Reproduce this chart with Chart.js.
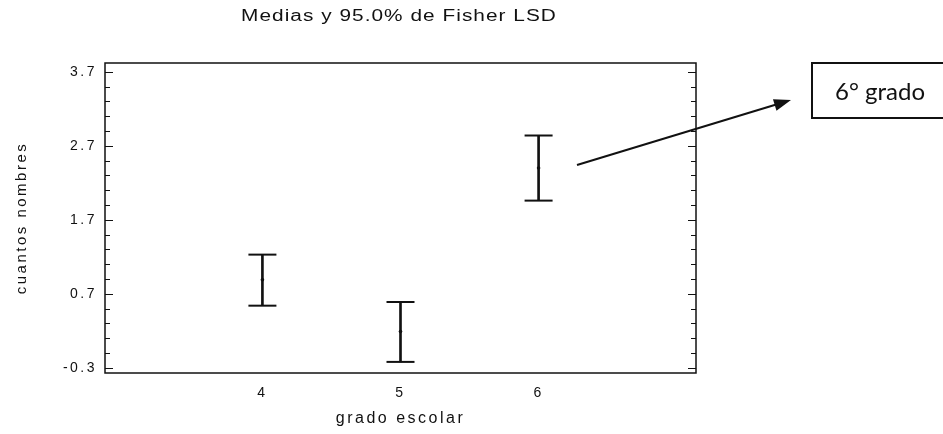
<!DOCTYPE html>
<html>
<head>
<meta charset="utf-8">
<script src="https://cdn.jsdelivr.net/npm/chart.js@4.4.1/dist/chart.umd.min.js"></script>
<style>
  html, body { margin: 0; padding: 0; background: #fff; }
  #wrap { position: relative; width: 943px; height: 434px; }
</style>
</head>
<body>
<div id="wrap"><canvas id="lsdChart"></canvas></div>
<script>
// ===== DATOS =====
const titulo = 'Medias y 95.0% de Fisher LSD';
const grados = [4, 5, 6];
const medias = [0.89, 0.19, 2.40];
const limInf = [0.54, -0.22, 1.96];
const limSup = [1.23, 0.59, 2.84];
const yMajor = [-0.3, 0.7, 1.7, 2.7, 3.7];
const nota = '6° grado';

const INK = '#111';
const FONT = "'Liberation Sans', Arial, sans-serif";

// ticks menores cada 0.2 (marcas del eje)
const yTicks = [];
for (let i = 0; i <= 20; i++) yTicks.push(Math.round((-0.3 + i * 0.2) * 10) / 10);
const esMayor = v => yMajor.some(m => Math.abs(m - v) < 1e-6);

// texto algo más ancho, como en el original
const espaciado = {
  id: 'espaciado',
  beforeUpdate(chart) { chart.ctx.letterSpacing = '2.5px'; },
  beforeDraw(chart) { chart.ctx.letterSpacing = '2.5px'; }
};

// marco + marcas hacia adentro
const marco = {
  id: 'marco',
  afterDatasetsDraw(chart) {
    const { ctx, chartArea: a, scales: { y } } = chart;
    ctx.save();
    ctx.strokeStyle = INK;
    ctx.lineWidth = 1.5;
    ctx.strokeRect(a.left, a.top, a.right - a.left, a.bottom - a.top);
    ctx.lineWidth = 1.2;
    yTicks.forEach(v => {
      const py = Math.round(y.getPixelForValue(v)) + 0.5;
      const len = esMayor(v) ? 8 : 5;
      ctx.beginPath();
      ctx.moveTo(a.left, py); ctx.lineTo(a.left + len, py);
      ctx.moveTo(a.right, py); ctx.lineTo(a.right - len, py);
      ctx.stroke();
    });
    ctx.restore();
  }
};

// titulo, flecha y recuadro
const anotaciones = {
  id: 'anotaciones',
  afterDraw(chart) {
    const { ctx } = chart;
    ctx.save();
    ctx.letterSpacing = '0.8px';
    ctx.fillStyle = INK;
    ctx.font = '16px ' + FONT;
    ctx.textAlign = 'center';
    ctx.textBaseline = 'middle';
    ctx.translate(399, 17);
    ctx.scale(1.3, 1);
    ctx.fillText(titulo, 0, 0);
    ctx.restore();

    // flecha
    const x0 = 577, y0 = 165, x1 = 791, y1 = 100;
    const ang = Math.atan2(y1 - y0, x1 - x0);
    const c = Math.cos(ang), s = Math.sin(ang);
    ctx.save();
    ctx.strokeStyle = INK;
    ctx.fillStyle = INK;
    ctx.lineWidth = 2;
    ctx.beginPath();
    ctx.moveTo(x0, y0);
    ctx.lineTo(x1 - 12 * c, y1 - 12 * s);
    ctx.stroke();
    ctx.beginPath();
    ctx.moveTo(x1, y1);
    ctx.lineTo(x1 - 17 * c + 6 * s, y1 - 17 * s - 6 * c);
    ctx.lineTo(x1 - 17 * c - 6 * s, y1 - 17 * s + 6 * c);
    ctx.closePath();
    ctx.fill();

    // recuadro
    ctx.lineWidth = 2;
    ctx.strokeRect(812, 63, 200, 55);
    ctx.letterSpacing = '0px';
    ctx.font = "24px Lato, 'Open Sans', sans-serif";
    ctx.textAlign = 'left';
    ctx.textBaseline = 'middle';
    ctx.fillText(nota, 835, 92);
    ctx.restore();
  }
};

const ctx = document.getElementById('lsdChart').getContext('2d');
new Chart(ctx, {
  type: 'bar',
  data: {
    datasets: [
      {
        type: 'bar',
        data: grados.map((g, i) => ({ x: g, y: [limInf[i], limSup[i]] })),
        backgroundColor: INK,
        barThickness: 2,
        borderWidth: 0,
        order: 3
      },
      {
        type: 'scatter',
        data: grados.map((g, i) => ({ x: g, y: limInf[i] })),
        pointStyle: 'line',
        radius: 14,
        borderWidth: 2,
        borderColor: INK,
        order: 2
      },
      {
        type: 'scatter',
        data: grados.map((g, i) => ({ x: g, y: limSup[i] })),
        pointStyle: 'line',
        radius: 14,
        borderWidth: 2,
        borderColor: INK,
        order: 2
      },
      {
        type: 'scatter',
        data: grados.map((g, i) => ({ x: g, y: medias[i] })),
        radius: 1.8,
        backgroundColor: INK,
        borderWidth: 0,
        order: 1
      }
    ]
  },
  options: {
    responsive: true,
    maintainAspectRatio: false,
    animation: false,
    layout: { padding: { left: 0, top: 63, right: 247, bottom: 0 } },
    plugins: {
      legend: { display: false },
      tooltip: { enabled: false },
      title: { display: false }
    },
    scales: {
      x: {
        type: 'linear',
        min: 2.86,
        max: 7.14,
        offset: false,
        afterBuildTicks: s => { s.ticks = grados.map(v => ({ value: v })); },
        ticks: { autoSkip: false, color: INK, padding: 12, font: { family: FONT, size: 14 } },
        grid: { display: false, drawTicks: false, offset: false },
        border: { display: false },
        title: {
          display: true, text: 'grado escolar', color: INK,
          font: { family: FONT, size: 16 }, padding: { top: 4, bottom: 6 }
        },
        afterFit: s => { s.height = 61; }
      },
      y: {
        min: -0.37,
        max: 3.82,
        afterBuildTicks: s => { s.ticks = yTicks.map(v => ({ value: v })); },
        ticks: {
          autoSkip: false, color: INK, padding: 8,
          font: { family: FONT, size: 14 },
          callback: v => esMayor(v) ? v.toFixed(1) : ''
        },
        grid: { display: false, drawTicks: false },
        border: { display: false },
        title: {
          display: true, text: 'cuantos nombres', color: INK,
          font: { family: FONT, size: 15 }, padding: { top: 13, bottom: 0 }
        },
        afterFit: s => { s.width = 105; }
      }
    }
  },
  plugins: [espaciado, marco, anotaciones]
});
</script>
</body>
</html>
